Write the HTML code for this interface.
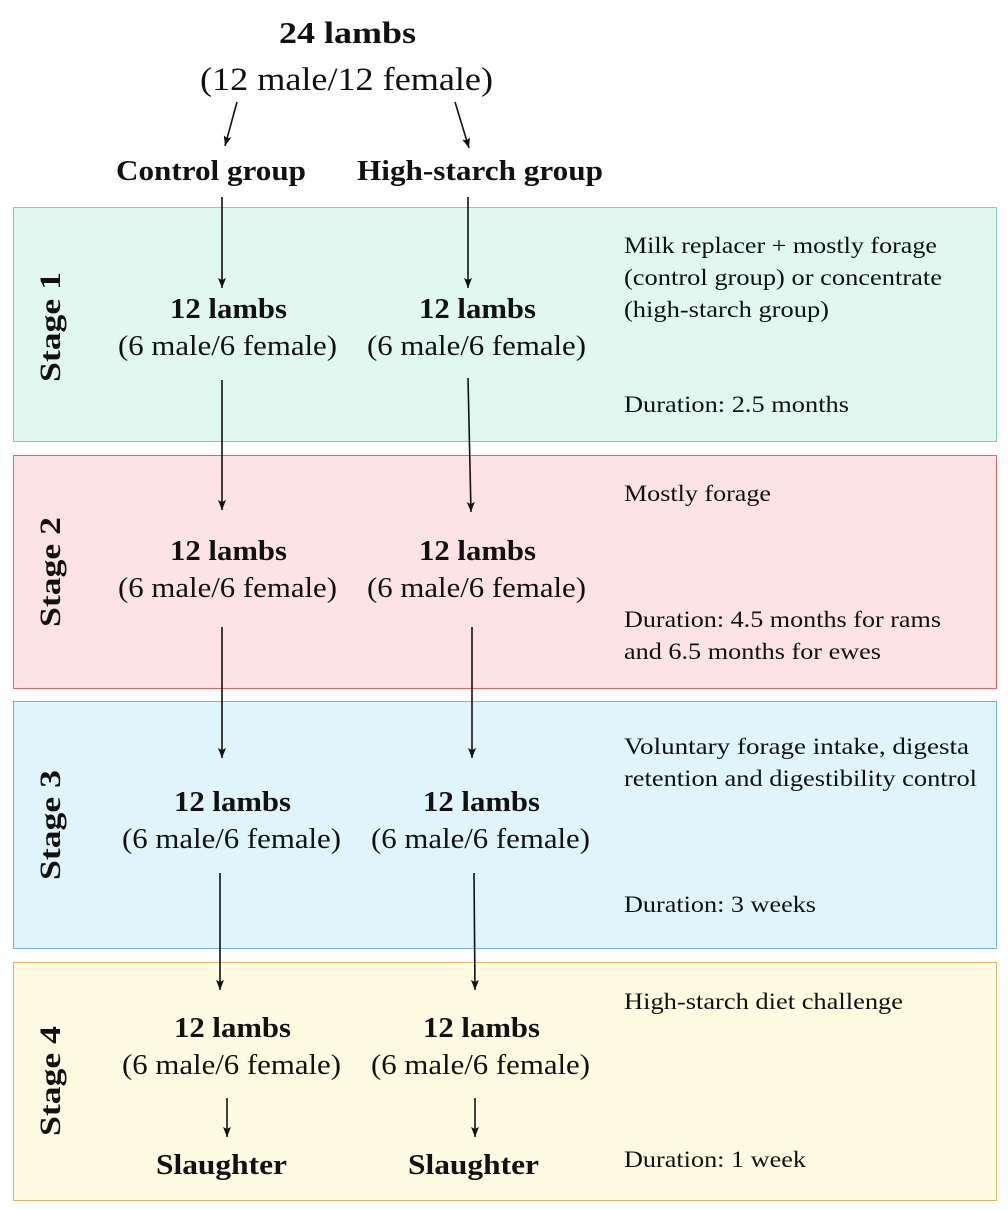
<!DOCTYPE html>
<html><head><meta charset="utf-8"><style>
html,body{margin:0;padding:0;background:#fff;}
svg{display:block;}
text{font-family:"Liberation Serif",serif;fill:#111;}
.b{font-weight:bold;}
</style></head><body>
<svg width="1008" height="1210" viewBox="0 0 1008 1210" xmlns="http://www.w3.org/2000/svg">
<defs><marker id="a" markerWidth="12" markerHeight="12" refX="10" refY="5" orient="auto" markerUnits="userSpaceOnUse">
<path d="M0,1 L10,5 L0,9 L2,5 Z" fill="#111"/></marker></defs>
<rect x="13.5" y="207.5" width="983" height="234" fill="#e0f8f0" stroke="#80cfbe"/>
<rect x="13.5" y="455.5" width="983" height="233" fill="#fde3e5" stroke="#e06565"/>
<rect x="13.5" y="701.5" width="983" height="247" fill="#dff4fb" stroke="#70b4d8"/>
<rect x="13.5" y="962.5" width="983" height="238" fill="#fdfbe1" stroke="#e9b265"/>

<text x="279" y="43" class="b" font-size="31" textLength="137" lengthAdjust="spacingAndGlyphs">24 lambs</text>
<text x="200" y="90" font-size="33" textLength="293" lengthAdjust="spacingAndGlyphs">(12 male/12 female)</text>
<g stroke="#111" stroke-width="1.6" fill="none">
<line x1="237" y1="102" x2="225" y2="146" marker-end="url(#a)"/>
<line x1="455" y1="102" x2="469" y2="148" marker-end="url(#a)"/>
<line x1="222" y1="197" x2="222" y2="288" marker-end="url(#a)"/>
<line x1="468" y1="197" x2="468" y2="288" marker-end="url(#a)"/>
<line x1="222" y1="380" x2="222" y2="510" marker-end="url(#a)"/>
<line x1="468" y1="378" x2="471" y2="512" marker-end="url(#a)"/>
<line x1="222" y1="627" x2="222" y2="758" marker-end="url(#a)"/>
<line x1="472" y1="627" x2="472" y2="758" marker-end="url(#a)"/>
<line x1="220" y1="873" x2="220" y2="990" marker-end="url(#a)"/>
<line x1="474" y1="873" x2="475" y2="990" marker-end="url(#a)"/>
<line x1="227" y1="1098" x2="227" y2="1137" marker-end="url(#a)"/>
<line x1="475" y1="1098" x2="475" y2="1137" marker-end="url(#a)"/>
</g>
<text x="116" y="180" class="b" font-size="28" textLength="190" lengthAdjust="spacingAndGlyphs">Control group</text>
<text x="357" y="180" class="b" font-size="28" textLength="246" lengthAdjust="spacingAndGlyphs">High-starch group</text>

<g font-size="28">
<text x="170" y="318" class="b" textLength="117" lengthAdjust="spacingAndGlyphs">12 lambs</text><text x="118" y="355" textLength="219" lengthAdjust="spacingAndGlyphs">(6 male/6 female)</text>
<text x="419" y="318" class="b" textLength="117" lengthAdjust="spacingAndGlyphs">12 lambs</text><text x="367" y="355" textLength="219" lengthAdjust="spacingAndGlyphs">(6 male/6 female)</text>
<text x="170" y="560" class="b" textLength="117" lengthAdjust="spacingAndGlyphs">12 lambs</text><text x="118" y="597" textLength="219" lengthAdjust="spacingAndGlyphs">(6 male/6 female)</text>
<text x="419" y="560" class="b" textLength="117" lengthAdjust="spacingAndGlyphs">12 lambs</text><text x="367" y="597" textLength="219" lengthAdjust="spacingAndGlyphs">(6 male/6 female)</text>
<text x="174" y="811" class="b" textLength="117" lengthAdjust="spacingAndGlyphs">12 lambs</text><text x="122" y="848" textLength="219" lengthAdjust="spacingAndGlyphs">(6 male/6 female)</text>
<text x="423" y="811" class="b" textLength="117" lengthAdjust="spacingAndGlyphs">12 lambs</text><text x="371" y="848" textLength="219" lengthAdjust="spacingAndGlyphs">(6 male/6 female)</text>
<text x="174" y="1037" class="b" textLength="117" lengthAdjust="spacingAndGlyphs">12 lambs</text><text x="122" y="1074" textLength="219" lengthAdjust="spacingAndGlyphs">(6 male/6 female)</text>
<text x="423" y="1037" class="b" textLength="117" lengthAdjust="spacingAndGlyphs">12 lambs</text><text x="371" y="1074" textLength="219" lengthAdjust="spacingAndGlyphs">(6 male/6 female)</text>
<text x="156" y="1174" class="b" textLength="131" lengthAdjust="spacingAndGlyphs">Slaughter</text>
<text x="408" y="1174" class="b" textLength="131" lengthAdjust="spacingAndGlyphs">Slaughter</text>
</g>

<g font-size="30" class="b">
<text transform="translate(60,382) rotate(-90)" class="b" textLength="110" lengthAdjust="spacingAndGlyphs">Stage 1</text>
<text transform="translate(60,627) rotate(-90)" class="b" textLength="110" lengthAdjust="spacingAndGlyphs">Stage 2</text>
<text transform="translate(60,880) rotate(-90)" class="b" textLength="110" lengthAdjust="spacingAndGlyphs">Stage 3</text>
<text transform="translate(60,1136) rotate(-90)" class="b" textLength="110" lengthAdjust="spacingAndGlyphs">Stage 4</text>
</g>

<g font-size="23">
<text x="624" y="253" textLength="313" lengthAdjust="spacingAndGlyphs">Milk replacer + mostly forage</text>
<text x="624" y="285" textLength="318" lengthAdjust="spacingAndGlyphs">(control group) or concentrate</text>
<text x="624" y="317" textLength="205" lengthAdjust="spacingAndGlyphs">(high-starch group)</text>
<text x="624" y="412" textLength="225" lengthAdjust="spacingAndGlyphs">Duration: 2.5 months</text>
<text x="624" y="501" textLength="147" lengthAdjust="spacingAndGlyphs">Mostly forage</text>
<text x="624" y="627" textLength="317" lengthAdjust="spacingAndGlyphs">Duration: 4.5 months for rams</text>
<text x="624" y="659" textLength="257" lengthAdjust="spacingAndGlyphs">and 6.5 months for ewes</text>
<text x="624" y="754" textLength="345" lengthAdjust="spacingAndGlyphs">Voluntary forage intake, digesta</text>
<text x="624" y="786" textLength="353" lengthAdjust="spacingAndGlyphs">retention and digestibility control</text>
<text x="624" y="912" textLength="192" lengthAdjust="spacingAndGlyphs">Duration: 3 weeks</text>
<text x="624" y="1009" textLength="279" lengthAdjust="spacingAndGlyphs">High-starch diet challenge</text>
<text x="624" y="1167" textLength="182" lengthAdjust="spacingAndGlyphs">Duration: 1 week</text>
</g>
</svg>
</body></html>
